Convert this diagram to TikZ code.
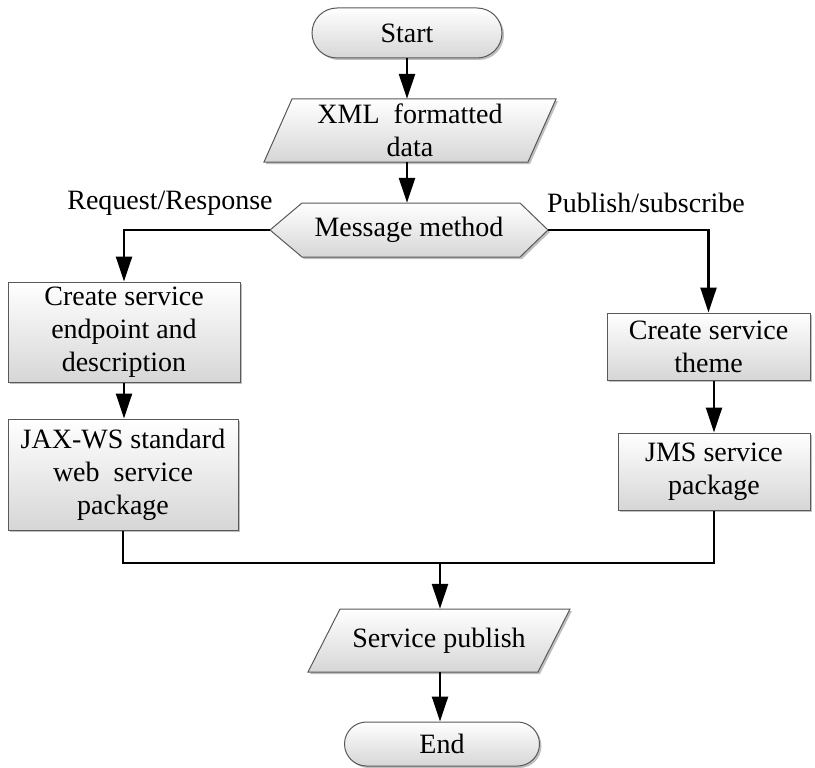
\documentclass[tikz,border=0pt]{standalone}
\usepackage{fontspec}
\setmainfont{Liberation Serif}
\usetikzlibrary{arrows.meta,shadows}
\begin{document}
\begin{tikzpicture}[x=1pt,y=-1pt,
  fillst/.style={top color=white,bottom color=black!16,draw=black!65,line width=1pt,
    drop shadow={shadow xshift=2pt,shadow yshift=-2pt,opacity=0.25,fill=black}},
  txt/.style={align=center,inner sep=0pt,font=\fontsize{28}{33}\selectfont},
  box/.style={fillst,txt,rectangle},
  term/.style={box,rounded corners=22pt},
  arr/.style={line width=2.4pt,-{Triangle[length=25pt,width=16pt]}},
  ln/.style={line width=2.4pt}]
\useasboundingbox (0,0) rectangle (815,768);

% terminals
\node[term,minimum width=190pt,minimum height=50pt,rounded corners=25pt] (start) at (407,33) {Start};
\node[term,minimum width=195pt,minimum height=44pt] (end) at (442,744) {End};

% XML parallelogram
\path[fillst] (292,99) -- (556,99) -- (528,162) -- (264,162) -- cycle;
\node[txt,minimum width=264pt,minimum height=63pt] (xml) at (410,130.5) {XML\ \ formatted\\data};

% message hexagon
\path[fillst] (270,230) -- (302,203) -- (520,203) -- (548,230) -- (520,257) -- (302,257) -- cycle;
\node[txt,minimum width=278pt,minimum height=54pt] (msg) at (409,230) {Message method};

% labels
\node[txt] (lblL) at (170,203) {Request/Response};
\node[txt] (lblR) at (646,203) {Publish/subscribe};

% left column
\node[box,minimum width=232pt,minimum height=100pt] (b1) at (124,332) {Create service\\endpoint and\\description};
\node[box,minimum width=230pt,minimum height=111pt] (b2) at (123,474.5) {JAX-WS standard\\web\ \ service\\package};

% right column
\node[box,minimum width=203pt,minimum height=67pt] (r1) at (708.5,346.5) {Create service\\theme};
\node[box,minimum width=192pt,minimum height=77pt] (r2) at (714,471.5) {JMS service\\package};

% service publish parallelogram
\path[fillst] (340,609) -- (570,609) -- (538,672) -- (308,672) -- cycle;
\node[txt,minimum width=230pt,minimum height=63pt] (sp) at (439,640.5) {Service publish};

\coordinate (m) at (440,563);

% connectors
\draw[arr] (start.south) -- (start.south |- xml.north);
\draw[arr] (start.south |- xml.south) -- (start.south |- msg.north);
\draw[arr] (msg.west) -| (b1.north);
\draw[arr] (msg.east) -| (r1.north);
\draw[arr] (b1.south) -- (b1.south |- b2.north);
\draw[arr] (r2.north |- r1.south) -- (r2.north);
\draw[ln] (b2.south) -- (b2.south |- m) -- (r2.south |- m) -- (r2.south);
\draw[arr] (m) -- (m |- sp.north);
\draw[arr] (m |- sp.south) -- (m |- end.north);
\end{tikzpicture}
\end{document}
